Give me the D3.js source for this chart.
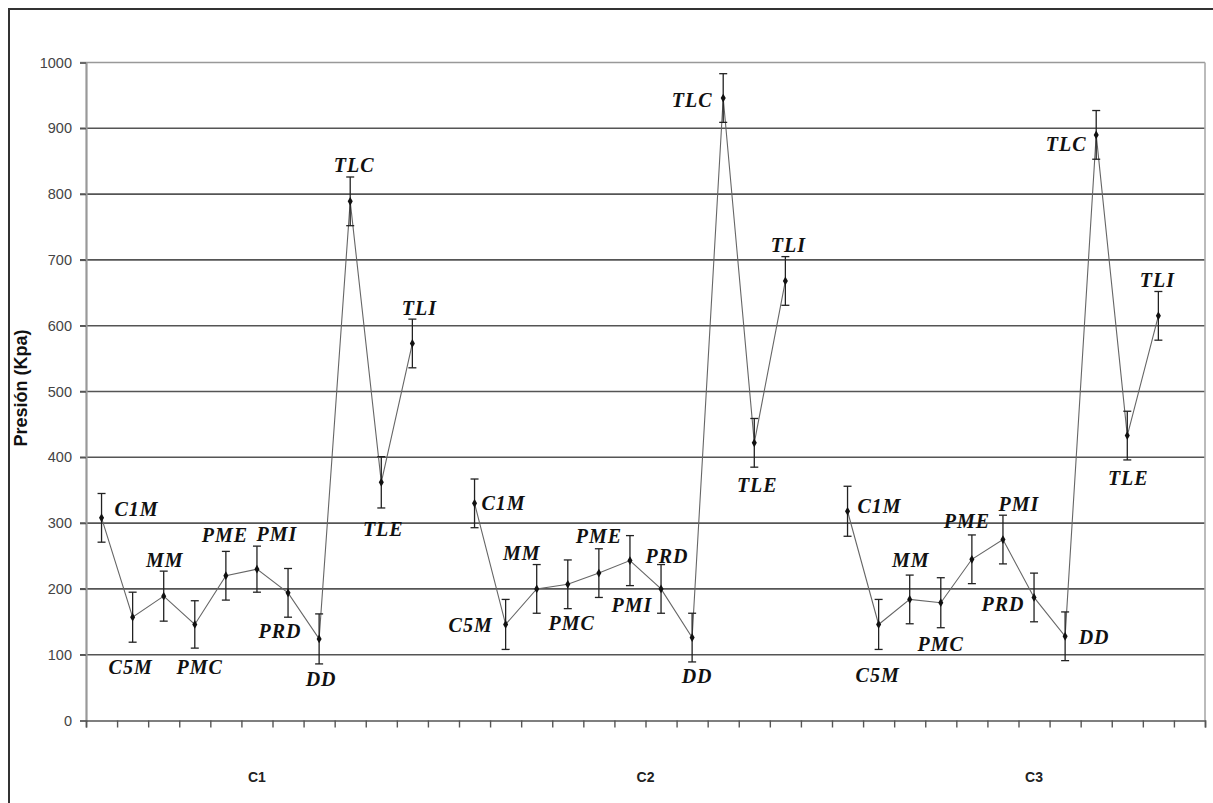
<!DOCTYPE html>
<html>
<head>
<meta charset="utf-8">
<script src="https://cdn.jsdelivr.net/npm/d3@7"></script>
<style>
  html, body { margin: 0; padding: 0; background: #fff; }
  svg { display: block; }
</style>
</head>
<body>
<svg id="chart" width="1213" height="803"></svg>
<script>
// ---- data ----
const categories = ["C1M","C5M","MM","PMC","PME","PMI","PRD","DD","TLC","TLE","TLI"];
const groups = ["C1","C2","C3"];
const meanC1 = [308,157,189,146,220,230,194,124,789,362,573];
const errC1  = [37,38,38,36,37,35,37,38,37,39,37];
const meanC2 = [330,146,200,207,224,243,200,126,946,422,668];
const errC2  = [37,38,37,37,37,38,37,37,37,37,37];
const meanC3 = [318,146,184,179,245,275,187,128,890,433,615];
const errC3  = [38,38,37,38,37,37,37,37,37,37,37];
const yTicks = [0,100,200,300,400,500,600,700,800,900,1000];

// ---- layout (label placement, px offsets from point: [dx of text centre, dy of baseline]) ----
const labelOffsets = [
  [[34,-2],[-3,57],[0,-29],[4,50],[-2,-34],[19,-28],[-9,45],[1,47],[3,-29],[1,54],[6,-28]],
  [[28,7],[-36,8],[-16,-29],[3,46],[-1,-30],[1,51],[5,-26],[4,45],[-32,9],[2,49],[2,-29]],
  [[31,2],[-2,58],[0,-32],[-1,48],[-6,-31],[15,-29],[-32,14],[28,8],[-31,16],[0,49],[-2,-29]]
];
const groupLabelSlot = [5.5, 18, 30.5];

const means = [meanC1, meanC2, meanC3];
const errs = [errC1, errC2, errC3];
const slotsPerGroup = categories.length + 1;
const nSlots = groups.length * slotsPerGroup;

const svg = d3.select("#chart");
const pLeft = 86, pRight = 1205, pTop = 62.5, pBottom = 720.5;

// outer frame
svg.append("rect").attr("x", 9).attr("y", 9).attr("width", 1400).attr("height", 1000)
  .attr("fill", "none").attr("stroke", "#333").attr("stroke-width", 2);

const y = d3.scaleLinear().domain([0, 1000]).range([pBottom, pTop]);
const x = d3.scaleBand().domain(d3.range(nSlots)).range([pLeft, pRight]).paddingInner(0).paddingOuter(0);
const xLin = d3.scaleLinear().domain([0, nSlots]).range([pLeft, pRight]);

// gridlines
svg.append("g").selectAll("line").data(yTicks.filter(d => d > 0 && d < 1000)).join("line")
  .attr("x1", pLeft - 6).attr("x2", pRight)
  .attr("y1", d => y(d)).attr("y2", d => y(d))
  .attr("stroke", "#555").attr("stroke-width", 1.6);

// plot border (top and right)
svg.append("line").attr("x1", pLeft - 6).attr("x2", pRight).attr("y1", y(1000)).attr("y2", y(1000))
  .attr("stroke", "#999").attr("stroke-width", 1.6);
svg.append("line").attr("x1", pRight).attr("x2", pRight).attr("y1", pTop).attr("y2", pBottom)
  .attr("stroke", "#aaa").attr("stroke-width", 1.6);

// y axis
const yAxis = d3.axisLeft(y).tickValues(yTicks).tickSize(6).tickPadding(8).tickFormat(d3.format("d"));
const gy = svg.append("g").attr("transform", `translate(${pLeft},0)`).call(yAxis);
gy.select(".domain").attr("stroke", "#999").attr("stroke-width", 2.2);
gy.selectAll(".tick line").attr("stroke", "#555").attr("stroke-width", 1.4);
gy.selectAll(".tick text").attr("font-family", "Liberation Sans, Arial, sans-serif")
  .attr("font-size", 14.5).attr("fill", "#444");

// x axis (ticks between categories)
const xAxis = d3.axisBottom(xLin).tickValues(d3.range(nSlots + 1)).tickSize(7).tickFormat("");
const gx = svg.append("g").attr("transform", `translate(0,${pBottom})`).call(xAxis);
gx.select(".domain").attr("stroke", "#555").attr("stroke-width", 1.6);
gx.selectAll(".tick line").attr("stroke", "#555").attr("stroke-width", 1.4);

// group labels
svg.append("g").selectAll("text").data(groups).join("text")
  .attr("x", (d, i) => xLin(groupLabelSlot[i]))
  .attr("y", 782)
  .attr("text-anchor", "middle")
  .attr("font-family", "Liberation Sans, Arial, sans-serif")
  .attr("font-weight", "bold").attr("font-size", 14).attr("fill", "#222")
  .text(d => d);

// y axis title
svg.append("text")
  .attr("transform", "translate(27,388) rotate(-90)")
  .attr("text-anchor", "middle")
  .attr("font-family", "Liberation Sans, Arial, sans-serif")
  .attr("font-weight", "bold").attr("font-size", 18).attr("fill", "#111")
  .text("Presión (Kpa)");

// series
const pts = groups.map((g, gi) => categories.map((c, ci) => ({
  g: gi, c: ci, name: c,
  cx: x(gi * slotsPerGroup + ci) + x.bandwidth() / 2,
  v: means[gi][ci], e: errs[gi][ci]
})));

const line = d3.line().x(d => d.cx).y(d => y(d.v));
svg.append("g").selectAll("path").data(pts).join("path")
  .attr("d", line).attr("fill", "none").attr("stroke", "#666").attr("stroke-width", 1.1);

const all = pts.flat();
const eb = svg.append("g").attr("stroke", "#222").attr("stroke-width", 1.3);
eb.selectAll("line.v").data(all).join("line").attr("class", "v")
  .attr("x1", d => d.cx).attr("x2", d => d.cx)
  .attr("y1", d => y(d.v + d.e)).attr("y2", d => y(d.v - d.e));
eb.selectAll("line.t").data(all).join("line").attr("class", "t")
  .attr("x1", d => d.cx - 4).attr("x2", d => d.cx + 4)
  .attr("y1", d => y(d.v + d.e)).attr("y2", d => y(d.v + d.e));
eb.selectAll("line.b").data(all).join("line").attr("class", "b")
  .attr("x1", d => d.cx - 4).attr("x2", d => d.cx + 4)
  .attr("y1", d => y(d.v - d.e)).attr("y2", d => y(d.v - d.e));

const diamond = d3.symbol().type(d3.symbolDiamond).size(22);
svg.append("g").selectAll("path").data(all).join("path")
  .attr("d", diamond)
  .attr("transform", d => `translate(${d.cx},${y(d.v)})`)
  .attr("fill", "#111");

// point labels
svg.append("g").selectAll("text").data(all).join("text")
  .attr("x", d => d.cx + labelOffsets[d.g][d.c][0] + 1)
  .attr("y", d => y(d.v) + labelOffsets[d.g][d.c][1])
  .attr("text-anchor", "middle")
  .attr("font-family", "Liberation Serif, 'Times New Roman', serif")
  .attr("font-style", "italic")
  .attr("font-weight", "bold")
  .attr("font-size", 20)
  .attr("letter-spacing", 1)
  .attr("fill", "#111")
  .text(d => d.name);
</script>
</body>
</html>
